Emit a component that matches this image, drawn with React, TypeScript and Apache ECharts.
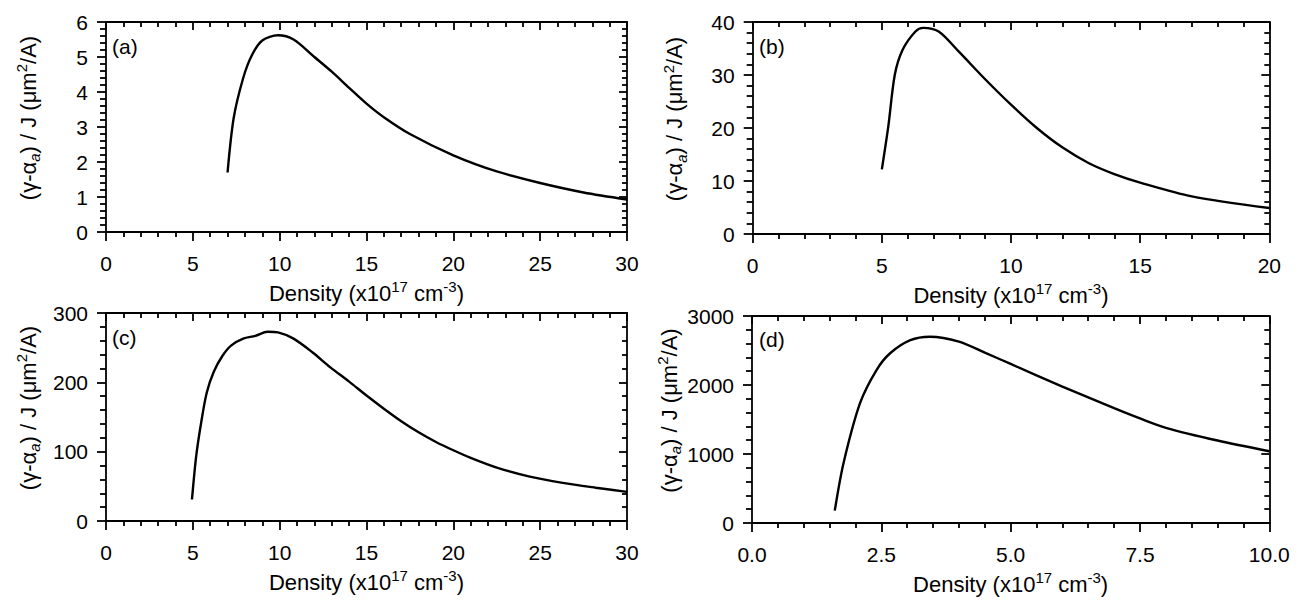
import React, { useEffect, useRef } from "react";
import * as echarts from "echarts";

// Panel (a)
const densityA = [7, 7.35, 7.9, 8.4, 9, 9.9, 10.8, 12, 13, 14, 15, 16, 17.5, 20, 22.5, 25, 27.5, 30];
const ratioA = [1.7, 3.25, 4.4, 5.05, 5.47, 5.62, 5.5, 5.0, 4.58, 4.12, 3.67, 3.28, 2.8, 2.19, 1.73, 1.4, 1.13, 0.93];
// Panel (b)
const densityB = [5, 5.25, 5.5, 5.8, 6.3, 6.6, 7.2, 8, 9, 10, 11, 12, 13, 14, 15, 17, 20];
const ratioB = [12.2, 20.3, 30, 34.7, 38.2, 38.9, 38.2, 34.3, 29.2, 24.4, 20.0, 16.3, 13.4, 11.3, 9.7, 7.1, 4.9];
// Panel (c)
const densityC = [4.95, 5.2, 5.5, 5.8, 6.2, 6.7, 7.2, 7.9, 8.6, 9.3, 9.9, 10.8, 11.9, 12.9, 14, 15, 16, 17, 18, 19, 20, 21, 22.5, 24.4, 26.3, 28.2, 30];
const ratioC = [31, 95, 145, 185, 215, 238, 253, 263, 267, 273, 272, 263, 243, 222, 201, 181, 162, 144, 128, 114, 102, 91, 77, 64, 55, 48, 42];
// Panel (d)
const densityD = [1.6, 1.77, 2.09, 2.41, 2.67, 3.06, 3.44, 4, 4.5, 5, 6, 7, 7.5, 8, 9, 10];
const ratioD = [180, 870, 1740, 2220, 2460, 2650, 2700, 2630, 2470, 2305, 1977, 1664, 1515, 1380, 1195, 1040];

const panelLabels = ["(a)", "(b)", "(c)", "(d)"];
const xRanges = [
  [0, 30, 5],
  [0, 20, 5],
  [0, 30, 5],
  [0, 10, 2.5],
];
const yRanges = [
  [0, 6, 1],
  [0, 40, 10],
  [0, 300, 100],
  [0, 3000, 1000],
];

const xTitle = "Density (x10{sup|17} cm{sup|-3})";
const yTitle = "(γ-α{sub|a}) / J (μm{sup|2}/A)";

const FONT = "'Liberation Sans', Arial, Helvetica, sans-serif";

const grids = [
  { left: 106, top: 22, width: 521, height: 210 },
  { left: 752.7, top: 22, width: 516.6, height: 212 },
  { left: 106, top: 313, width: 521, height: 208 },
  { left: 752, top: 316, width: 517.3, height: 207 },
];

const labelPos = [
  { x: 112, y: 36 },
  { x: 759, y: 36 },
  { x: 112, y: 327 },
  { x: 759, y: 329 },
];

const rich = {
  sup: { fontSize: 15, verticalAlign: "top", fontFamily: FONT, color: "#000" },
  sub: { fontSize: 15, verticalAlign: "bottom", fontStyle: "italic", fontFamily: FONT, color: "#000" },
};

export default function App() {
  const ref = useRef<HTMLDivElement>(null);
  useEffect(() => {
    document.body.style.margin = "0";
    if (!ref.current) return;
    const chart = echarts.init(ref.current, undefined, { renderer: "svg" });
    const series = [
      [densityA, ratioA],
      [densityB, ratioB],
      [densityC, ratioC],
      [densityD, ratioD],
    ];
    const xAxes: any[] = [];
    const yAxes: any[] = [];
    const ser: any[] = [];
    const lineStyle = { color: "#000", width: 1.8 };
    for (let i = 0; i < 4; i++) {
      const [xmin, xmax, xint] = xRanges[i];
      const [ymin, ymax, yint] = yRanges[i];
      const fmt = i === 3 ? (v: number) => v.toFixed(1) : (v: number) => String(v);
      xAxes.push({
        type: "value",
        gridIndex: i,
        position: "bottom",
        min: xmin,
        max: xmax,
        interval: xint,
        name: xTitle,
        nameLocation: "middle",
        nameGap: 47,
        nameTextStyle: { fontSize: 22, fontFamily: FONT, color: "#000", lineHeight: 28, rich },
        axisLine: { show: true, onZero: false, lineStyle },
        axisTick: { show: true, inside: false, length: 9, lineStyle },
        minorTick: { show: true, splitNumber: 5, length: 5, lineStyle },
        splitLine: { show: false },
        axisLabel: { show: true, margin: 21, fontSize: 21, fontFamily: FONT, color: "#000", formatter: fmt },
      });
      xAxes.push({
        type: "value",
        gridIndex: i,
        position: "top",
        min: xmin,
        max: xmax,
        interval: xint,
        axisLine: { show: true, onZero: false, lineStyle },
        axisTick: { show: true, inside: true, length: 8, lineStyle },
        minorTick: { show: true, splitNumber: 5, length: 5, lineStyle },
        splitLine: { show: false },
        axisLabel: { show: false },
      });
      yAxes.push({
        type: "value",
        gridIndex: i,
        position: "left",
        min: ymin,
        max: ymax,
        interval: yint,
        name: yTitle,
        nameLocation: "middle",
        nameRotate: 90,
        nameGap: 64,
        nameTextStyle: { fontSize: 22, fontFamily: FONT, color: "#000", lineHeight: 28, rich, padding: [0, 0, 0, 18] },
        axisLine: { show: true, onZero: false, lineStyle },
        axisTick: { show: true, inside: false, length: 9, lineStyle },
        minorTick: { show: true, splitNumber: 5, length: 6, lineStyle },
        splitLine: { show: false },
        axisLabel: { show: true, margin: 18, fontSize: 21, fontFamily: FONT, color: "#000", formatter: (v: number) => String(v) },
      });
      yAxes.push({
        type: "value",
        gridIndex: i,
        position: "right",
        min: ymin,
        max: ymax,
        interval: yint,
        axisLine: { show: true, onZero: false, lineStyle },
        axisTick: { show: true, inside: true, length: 8, lineStyle },
        minorTick: { show: true, splitNumber: 5, length: 5, lineStyle },
        splitLine: { show: false },
        axisLabel: { show: false },
      });
      const [xs, ys] = series[i];
      ser.push({
        type: "line",
        xAxisIndex: i * 2,
        yAxisIndex: i * 2,
        data: xs.map((x, k) => [x, ys[k]]),
        smooth: 0.3,
        symbol: "none",
        lineStyle: { color: "#000", width: 2.4 },
      });
    }
    chart.setOption({
      animation: false,
      backgroundColor: "#fff",
      grid: grids.map((g) => ({ ...g, containLabel: false })),
      xAxis: xAxes,
      yAxis: yAxes,
      series: ser,
      graphic: panelLabels.map((t, i) => ({
        type: "text",
        x: labelPos[i].x,
        y: labelPos[i].y,
        style: { text: t, fontSize: 21, fontFamily: FONT, fill: "#000", textVerticalAlign: "top" },
      })),
    });
    return () => chart.dispose();
  }, []);
  return <div ref={ref} style={{ width: 1298, height: 600 }} />;
}
